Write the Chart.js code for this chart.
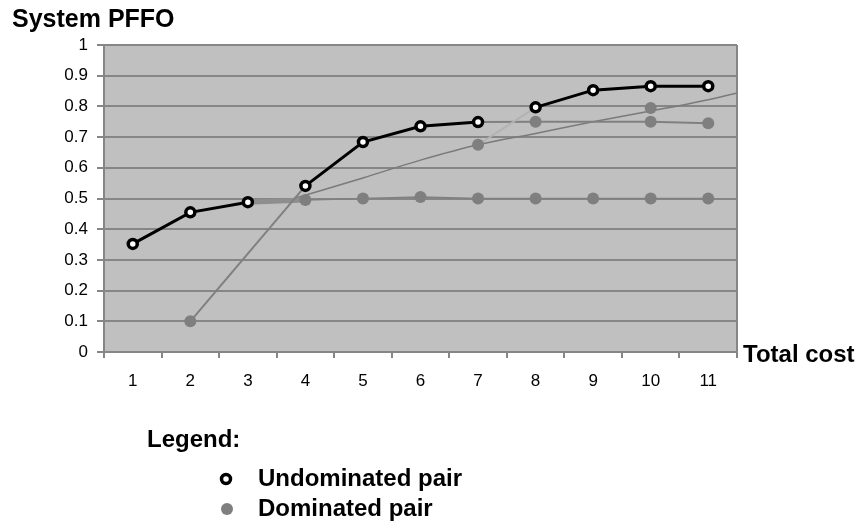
<!DOCTYPE html>
<html>
<head>
<meta charset="utf-8">
<script src="https://cdn.jsdelivr.net/npm/chart.js@4/dist/chart.umd.min.js"></script>
<style>
  html, body { margin: 0; padding: 0; background: #ffffff; }
  #wrap { width: 868px; height: 523px; }
</style>
</head>
<body>
<div id="wrap"><canvas id="c" width="868" height="523"></canvas></div>
<script>
// Total cost categories and tick labels
const costLabels = ['1', '2', '3', '4', '5', '6', '7', '8', '9', '10', '11'];
const costs = [1, 2, 3, 4, 5, 6, 7, 8, 9, 10, 11];
const yTicks = [0, 0.1, 0.2, 0.3, 0.4, 0.5, 0.6, 0.7, 0.8, 0.9, 1];

// System PFFO of the undominated pairs (one per cost)
const undominated = [0.352, 0.455, 0.488, 0.541, 0.684, 0.735, 0.749, 0.797, 0.853, 0.866, 0.866];
// cost steps where the undominated front is not joined
const frontBreaks = [2, 6];

// Dominated pairs
const dominatedX = [2, 4, 5, 6, 7, 8, 9, 10, 11, 7, 8, 10, 10, 11];
const dominatedY = [0.10, 0.495, 0.50, 0.505, 0.50, 0.50, 0.50, 0.50, 0.50, 0.675, 0.75, 0.795, 0.75, 0.745];

// Connector paths between pairs
const riseX = [2, 4],   riseY = [0.10, 0.541];
const bridgeX = [3, 4], bridgeY = [0.488, 0.495];
const floorX = [4, 5, 6, 7, 8, 9, 10, 11];
const floorY = [0.495, 0.50, 0.505, 0.50, 0.50, 0.50, 0.50, 0.50];
const shelfX = [7, 8, 10, 11], shelfY = [0.749, 0.75, 0.75, 0.745];
const stepX = [7, 8],   stepY = [0.675, 0.797];

// Trend curve through the dominated pairs
const trendX = [3.8, 5, 6, 7, 8, 9, 10, 11, 11.5];
const trendY = [0.50, 0.567, 0.625, 0.675, 0.712, 0.75, 0.785, 0.822, 0.844];

const pts = (xs, ys) => xs.map((x, i) => ({ x: x, y: ys[i] }));

const FONT = "'Liberation Sans', Arial, sans-serif";
const GRID = '#868686';
const DOM_GREY = '#7f7f7f';

const link = (xs, ys, color, width, extra) => Object.assign({
  type: 'line',
  xAxisID: 'xv',
  data: pts(xs, ys),
  borderColor: color,
  borderWidth: width,
  pointRadius: 0,
  fill: false,
  tension: 0
}, extra || {});

const plotFrame = {
  id: 'plotFrame',
  beforeDraw(chart) {
    const { ctx, chartArea: a } = chart;
    ctx.save();
    ctx.fillStyle = '#c0c0c0';
    ctx.fillRect(a.left, a.top, a.right - a.left, a.bottom - a.top);
    ctx.restore();
  },
  beforeDatasetsDraw(chart) {
    const { ctx, chartArea: a } = chart;
    ctx.save();
    ctx.strokeStyle = GRID;
    ctx.lineWidth = 2;
    ctx.beginPath();
    ctx.moveTo(a.right, a.top);
    ctx.lineTo(a.right, a.bottom);
    ctx.stroke();
    ctx.restore();
  },
  afterDraw(chart) {
    const { ctx, chartArea: a } = chart;
    ctx.save();
    ctx.fillStyle = '#000000';
    ctx.textBaseline = 'alphabetic';
    ctx.textAlign = 'left';
    ctx.font = 'bold 25px ' + FONT;
    ctx.fillText('System PFFO', 12, 27);
    ctx.font = 'bold 24px ' + FONT;
    ctx.fillText('Total cost', a.right + 6, a.bottom + 10);

    // legend block
    ctx.fillText('Legend:', 147, 447);
    const u = chart.data.datasets[0];
    const d = chart.data.datasets[1];
    // undominated marker
    ctx.beginPath();
    ctx.arc(226, 479, u.pointRadius, 0, Math.PI * 2);
    ctx.fillStyle = u.pointBackgroundColor;
    ctx.fill();
    ctx.lineWidth = u.pointBorderWidth;
    ctx.strokeStyle = u.pointBorderColor;
    ctx.stroke();
    // dominated marker
    ctx.beginPath();
    ctx.arc(227, 509, d.pointRadius, 0, Math.PI * 2);
    ctx.fillStyle = d.pointBackgroundColor;
    ctx.fill();

    ctx.fillStyle = '#000000';
    ctx.fillText(u.label, 258, 486);
    ctx.fillText(d.label, 258, 516);
    ctx.restore();
  }
};

new Chart(document.getElementById('c'), {
  data: {
    labels: costLabels,
    datasets: [
      {
        type: 'line',
        label: 'Undominated pair',
        xAxisID: 'xv',
        data: pts(costs, undominated),
        borderColor: '#000000',
        borderWidth: 3,
        pointRadius: 4.5,
        pointBorderWidth: 3.5,
        pointBackgroundColor: '#ffffff',
        pointBorderColor: '#000000',
        pointStyle: 'circle',
        tension: 0,
        segment: {
          borderColor: c => frontBreaks.includes(c.p0DataIndex) ? 'rgba(0,0,0,0)' : undefined
        }
      },
      {
        type: 'line',
        label: 'Dominated pair',
        xAxisID: 'xv',
        data: pts(dominatedX, dominatedY),
        showLine: false,
        pointRadius: 6,
        pointBorderWidth: 0,
        pointBackgroundColor: DOM_GREY,
        pointBorderColor: DOM_GREY
      },
      link(stepX, stepY, '#b2b2b2', 2),
      link(shelfX, shelfY, '#808080', 2),
      link(riseX, riseY, '#808080', 2),
      link(bridgeX, bridgeY, '#8e8e8e', 5),
      link(floorX, floorY, '#808080', 1.5),
      link(trendX, trendY, '#7a7a7a', 1.5, { tension: 0.4, cubicInterpolationMode: 'monotone' })
    ]
  },
  options: {
    responsive: false,
    animation: false,
    events: [],
    layout: { padding: { top: 45, left: 0, right: 131, bottom: 133 } },
    plugins: {
      legend: { display: false },
      tooltip: { enabled: false },
      title: { display: false }
    },
    scales: {
      x: {
        type: 'category',
        position: 'bottom',
        offset: true,
        afterFit: s => { s.height = 38; },
        grid: {
          offset: true,
          drawOnChartArea: false,
          drawTicks: true,
          tickLength: 6,
          color: GRID,
          lineWidth: 2
        },
        border: { color: GRID, width: 2 },
        ticks: {
          color: '#000000',
          padding: 13,
          maxRotation: 0,
          font: { family: FONT, size: 17 }
        }
      },
      xv: {
        type: 'linear',
        display: false,
        min: 0.5,
        max: 11.5
      },
      y: {
        type: 'linear',
        min: 0,
        max: 1,
        afterFit: s => { s.width = 104; },
        afterBuildTicks: s => { s.ticks = yTicks.map(v => ({ value: v })); },
        grid: {
          color: GRID,
          lineWidth: 2,
          drawTicks: true,
          tickLength: 7
        },
        border: { color: GRID, width: 2 },
        ticks: {
          color: '#000000',
          padding: 9,
          font: { family: FONT, size: 17 },
          callback: v => String(Math.round(v * 10) / 10)
        }
      }
    }
  },
  plugins: [plotFrame]
});
</script>
</body>
</html>
